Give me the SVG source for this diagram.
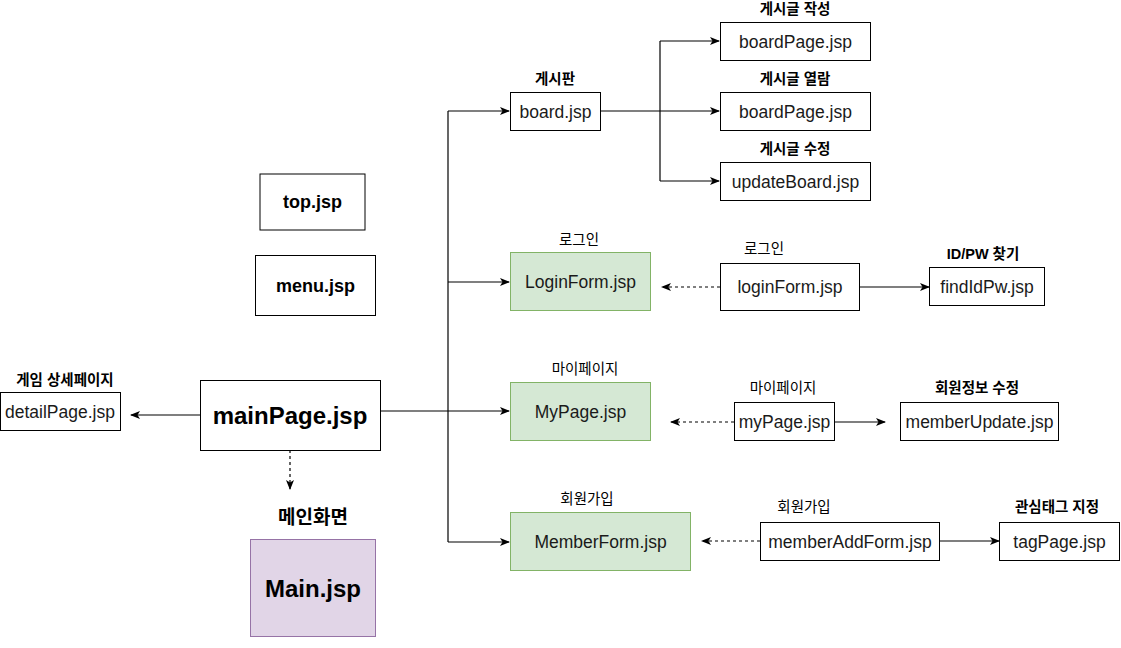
<svg xmlns="http://www.w3.org/2000/svg" width="1121" height="648" viewBox="0 0 1121 648">
<style>
.bg{fill:#ffffff}
.box{fill:#ffffff;stroke:#000000;stroke-width:1}
.green{fill:#d5e8d4;stroke:#82b366;stroke-width:1}
.purple{fill:#e1d5e7;stroke:#9673a6;stroke-width:1}
.t{font-family:"Liberation Sans",Arial,sans-serif;font-size:17.5px;fill:#1a1a1a;text-anchor:middle}
.tb{font-family:"Liberation Sans",Arial,sans-serif;font-weight:bold;fill:#000;text-anchor:middle}
.lbl{font-family:"Liberation Sans","Noto Sans CJK KR",sans-serif;font-size:14.5px;fill:#000;text-anchor:middle}
.lblb{font-family:"Liberation Sans","Noto Sans CJK KR",sans-serif;font-size:14.5px;font-weight:bold;fill:#000;text-anchor:middle}
.edge{fill:none;stroke:#000;stroke-width:1.2}
.dash{fill:none;stroke:#000;stroke-width:1.2;stroke-dasharray:3 3}
</style>
<defs>
<marker id="arr" viewBox="0 0 10 8" refX="9" refY="4" markerWidth="10" markerHeight="8" markerUnits="userSpaceOnUse" orient="auto">
<path d="M0,0 L10,4 L0,8 L2.5,4 Z" fill="#000"/>
</marker>
</defs>
<rect class="bg" x="0" y="0" width="1121" height="648"/>

<g id="connectors">
<path class="edge" d="M200,415 L131,415" marker-end="url(#arr)"/>
<path class="dash" d="M290,450 L290,489" marker-end="url(#arr)"/>
<path class="edge" d="M380,411 L509,411" marker-end="url(#arr)"/>
<path class="edge" d="M448,111 L448,542"/>
<path class="edge" d="M448,111 L509,111" marker-end="url(#arr)"/>
<path class="edge" d="M448,282 L509,282" marker-end="url(#arr)"/>
<path class="edge" d="M448,542 L509,542" marker-end="url(#arr)"/>
<path class="edge" d="M600,111 L660,111"/>
<path class="edge" d="M660,41 L660,181"/>
<path class="edge" d="M660,41 L719,41" marker-end="url(#arr)"/>
<path class="edge" d="M660,111 L719,111" marker-end="url(#arr)"/>
<path class="edge" d="M660,181 L719,181" marker-end="url(#arr)"/>
<path class="dash" d="M720,287 L662,287" marker-end="url(#arr)"/>
<path class="edge" d="M859,287 L929,287" marker-end="url(#arr)"/>
<path class="dash" d="M734,422 L671,422" marker-end="url(#arr)"/>
<path class="edge" d="M834,422 L885,422" marker-end="url(#arr)"/>
<path class="dash" d="M760,541 L702,541" marker-end="url(#arr)"/>
<path class="edge" d="M939,541 L999,541" marker-end="url(#arr)"/>
</g>

<g id="top">
<rect class="box" x="260" y="174" width="105" height="56"/>
<text class="tb" x="312.5" y="208" font-size="18">top.jsp</text>
</g>
<g id="menu">
<rect class="box" x="255.5" y="255.5" width="120" height="60"/>
<text class="tb" x="315.5" y="291.5" font-size="18">menu.jsp</text>
</g>
<g id="mainPage">
<rect class="box" x="200.5" y="380.5" width="180" height="70"/>
<text class="tb" x="290" y="423.5" font-size="24">mainPage.jsp</text>
</g>
<g id="detailPage">
<text class="lblb" x="65" y="385">게임 상세페이지</text>
<rect class="box" x="0.5" y="392.5" width="120" height="38"/>
<text class="t" x="60" y="417.5">detailPage.jsp</text>
</g>
<g id="main">
<text class="tb" x="313" y="524" font-size="19" style="font-family:'Liberation Sans','Noto Sans CJK KR',sans-serif">메인화면</text>
<rect class="purple" x="250.5" y="539.5" width="125" height="97"/>
<text class="tb" x="313" y="596.5" font-size="24">Main.jsp</text>
</g>
<g id="board">
<text class="lblb" x="555" y="84">게시판</text>
<rect class="box" x="510.5" y="92.5" width="90" height="38"/>
<text class="t" x="555.5" y="117.5">board.jsp</text>
</g>
<g id="boardPageWrite">
<text class="lblb" x="795" y="14">게시글 작성</text>
<rect class="box" x="720.5" y="22.5" width="150" height="38"/>
<text class="t" x="795.5" y="47.5">boardPage.jsp</text>
</g>
<g id="boardPageView">
<text class="lblb" x="795" y="84">게시글 열람</text>
<rect class="box" x="720.5" y="92.5" width="150" height="38"/>
<text class="t" x="795.5" y="117.5">boardPage.jsp</text>
</g>
<g id="updateBoard">
<text class="lblb" x="795" y="154">게시글 수정</text>
<rect class="box" x="720.5" y="162.5" width="150" height="38"/>
<text class="t" x="795.5" y="187.5">updateBoard.jsp</text>
</g>
<g id="LoginForm">
<text class="lbl" x="579" y="245">로그인</text>
<rect class="green" x="510.5" y="252.5" width="140" height="58"/>
<text class="t" x="580.5" y="287.5">LoginForm.jsp</text>
</g>
<g id="loginForm">
<text class="lbl" x="764" y="254">로그인</text>
<rect class="box" x="720.5" y="263.5" width="139" height="47"/>
<text class="t" x="790" y="293">loginForm.jsp</text>
</g>
<g id="findIdPw">
<text class="lblb" x="983" y="259">ID/PW 찾기</text>
<rect class="box" x="929.5" y="267.5" width="115" height="38"/>
<text class="t" x="987" y="292.5">findIdPw.jsp</text>
</g>
<g id="MyPage">
<text class="lbl" x="585" y="374">마이페이지</text>
<rect class="green" x="510.5" y="382.5" width="140" height="58"/>
<text class="t" x="580.5" y="417.5">MyPage.jsp</text>
</g>
<g id="myPage">
<text class="lbl" x="783" y="393">마이페이지</text>
<rect class="box" x="734.5" y="402.5" width="100" height="38"/>
<text class="t" x="784.5" y="427.5">myPage.jsp</text>
</g>
<g id="memberUpdate">
<text class="lblb" x="977" y="393">회원정보 수정</text>
<rect class="box" x="900.5" y="402.5" width="158" height="38"/>
<text class="t" x="979.5" y="427.5">memberUpdate.jsp</text>
</g>
<g id="MemberForm">
<text class="lbl" x="587" y="504">회원가입</text>
<rect class="green" x="510.5" y="512.5" width="180" height="58"/>
<text class="t" x="600.5" y="547.5">MemberForm.jsp</text>
</g>
<g id="memberAddForm">
<text class="lbl" x="804" y="512">회원가입</text>
<rect class="box" x="760.5" y="522.5" width="179" height="38"/>
<text class="t" x="850" y="547.5">memberAddForm.jsp</text>
</g>
<g id="tagPage">
<text class="lblb" x="1057" y="512">관심태그 지정</text>
<rect class="box" x="999.5" y="522.5" width="120" height="38"/>
<text class="t" x="1059.5" y="547.5">tagPage.jsp</text>
</g>
</svg>
